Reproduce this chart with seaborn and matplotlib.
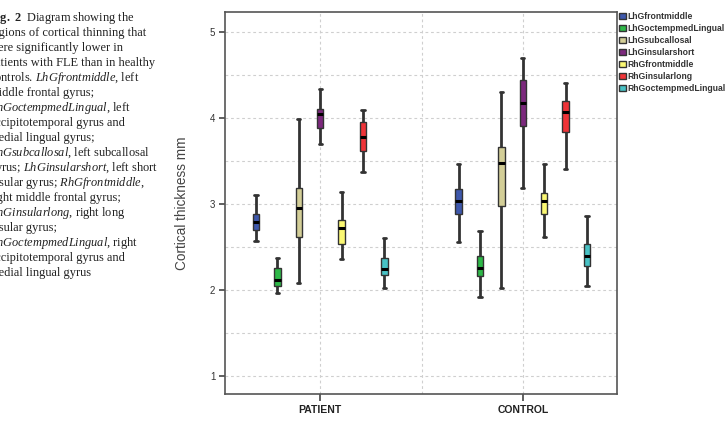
import numpy as np
import pandas as pd
import matplotlib
matplotlib.use("Agg")
import matplotlib.pyplot as plt
import seaborn as sns

sns.set_style("white")
plt.rcParams['font.family'] = ['Liberation Sans', 'DejaVu Sans']

groups = ['PATIENT', 'CONTROL']
regions = ['LhGfrontmiddle', 'LhGoctempmedLingual', 'LhGsubcallosal',
           'LhGinsularshort', 'RhGfrontmiddle', 'RhGinsularlong',
           'RhGoctempmedLingual']
colors = ['#3E58AC', '#2EB848', '#D3CE97', '#7C287D', '#FBF873', '#EF3338', '#48C2C5']

# five-number summaries: min, q1, median, q3, max
patient = [
    [2.57, 2.70, 2.79, 2.88, 3.10],
    [1.96, 2.05, 2.11, 2.25, 2.37],
    [2.08, 2.61, 2.95, 3.19, 3.99],
    [3.69, 3.88, 4.05, 4.10, 4.34],
    [2.36, 2.53, 2.72, 2.81, 3.14],
    [3.37, 3.62, 3.78, 3.95, 4.09],
    [2.02, 2.17, 2.24, 2.37, 2.60],
]
control = [
    [2.56, 2.88, 3.03, 3.17, 3.46],
    [1.92, 2.16, 2.26, 2.39, 2.69],
    [2.02, 2.97, 3.48, 3.66, 4.30],
    [3.19, 3.91, 4.17, 4.44, 4.70],
    [2.61, 2.88, 3.03, 3.13, 3.46],
    [3.41, 3.84, 4.07, 4.20, 4.40],
    [2.04, 2.28, 2.39, 2.53, 2.86],
]

caption = [
    r"$\mathbf{Fig.\ 2}$  Diagram showing the",
    "regions of cortical thinning that",
    "were significantly lower in",
    "patients with FLE than in healthy",
    r"controls. $\mathit{LhGfrontmiddle}$, left",
    "middle frontal gyrus;",
    r"$\mathit{LhGoctempmedLingual}$, left",
    "occipitotemporal gyrus and",
    "medial lingual gyrus;",
    r"$\mathit{LhGsubcallosal}$, left subcallosal",
    r"gyrus; $\mathit{LhGinsularshort}$, left short",
    r"insular gyrus; $\mathit{RhGfrontmiddle}$,",
    "right middle frontal gyrus;",
    r"$\mathit{RhGinsularlong}$, right long",
    "insular gyrus;",
    r"$\mathit{RhGoctempmedLingual}$, right",
    "occipitotemporal gyrus and",
    "medial lingual gyrus",
]

rows = []
for g, summ in zip(groups, [patient, control]):
    for r, vals in zip(regions, summ):
        for v in vals:
            rows.append({'group': g, 'region': r, 'value': v})
df = pd.DataFrame(rows)

plt.rcParams['mathtext.fontset'] = 'custom'
plt.rcParams['mathtext.rm'] = 'Liberation Serif'
plt.rcParams['mathtext.it'] = 'Liberation Serif:italic'
plt.rcParams['mathtext.bf'] = 'Liberation Serif:bold'

fig = plt.figure(figsize=(7.25, 4.25), dpi=100)
ax = fig.add_axes([225 / 725, 31 / 425, 392 / 725, 382 / 425])

edge = '#333333'
sns.boxplot(data=df, x='group', y='value', hue='region', order=groups,
            hue_order=regions, palette=colors, saturation=1, whis=np.inf,
            width=0.74, gap=0.7, linecolor=edge, linewidth=1.0, ax=ax,
            medianprops={'color': 'black', 'linewidth': 2.2},
            whiskerprops={'color': edge, 'linewidth': 2.0},
            capprops={'color': edge, 'linewidth': 2.0})

ax.set_ylim(0.79, 5.23)
ax.set_xlim(-0.47, 1.465)
ax.set_yticks([1, 2, 3, 4, 5])
ax.set_yticks(np.arange(1, 5.01, 0.5), minor=True)
ax.set_xticks([0.0, 0.5, 1.0])
ax.set_xticklabels(['PATIENT', '', 'CONTROL'])
ax.grid(True, which='both', axis='y', color='#cfcfcf', linestyle=(0, (2.5, 2.5)), linewidth=0.8)
ax.grid(True, which='major', axis='x', color='#cfcfcf', linestyle=(0, (2.5, 2.5)), linewidth=0.8)
ax.set_axisbelow(True)
ax.tick_params(axis='y', which='major', left=True, length=4, width=1.2, color='#444444',
               labelsize=7, labelcolor='#333333', pad=3)
ax.tick_params(axis='y', which='minor', left=False)
ax.tick_params(axis='x', bottom=True, length=5, width=1.2, color='#444444',
               labelsize=7.5, labelcolor='#222222', pad=3)
ax.xaxis.get_major_ticks()[1].tick1line.set_visible(False)
for lab in ax.get_xticklabels():
    lab.set_fontweight('bold')
for sp in ax.spines.values():
    sp.set_color('#555555')
    sp.set_linewidth(1.2)
ax.set_xlabel('')
ax.set_ylabel('Cortical thickness mm', fontsize=9.8, color='#444444', labelpad=15)

ax.legend(loc='upper left', bbox_to_anchor=(1.0, 1.005), frameon=False,
          fontsize=6.2, handlelength=0.8, handleheight=0.8, handletextpad=0.25,
          labelspacing=0.35, borderaxespad=0.1, borderpad=0.1)
for t in ax.get_legend().get_texts():
    t.set_fontweight('bold')
    t.set_color('#333333')

for i, line in enumerate(caption):
    fig.text(-11 / 725, 1 - (18 + 15 * i) / 425, line, fontsize=8.9,
             family='Liberation Serif', color='#222222', va='center', ha='left')

fig.savefig('out.png', dpi=100)
